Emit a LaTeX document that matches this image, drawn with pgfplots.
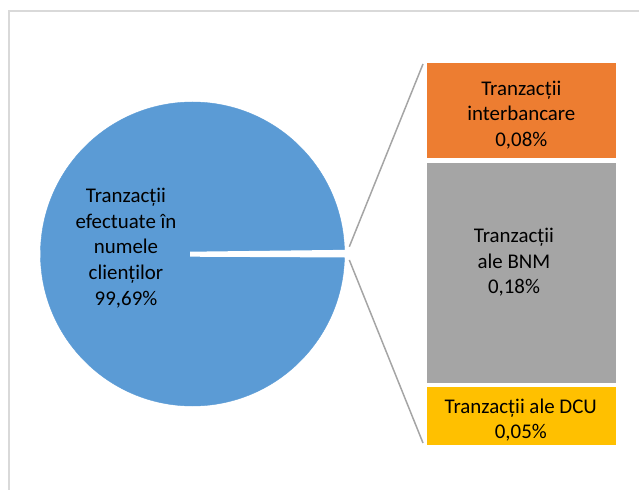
\documentclass[border=0pt]{standalone}
\usepackage{pgfplots}
\pgfplotsset{compat=1.18}
\usepackage{fontspec}
\setmainfont{Carlito}
\definecolor{pieblue}{HTML}{5B9BD5}
\definecolor{orng}{HTML}{ED7D31}
\definecolor{gry}{HTML}{A5A5A5}
\definecolor{yel}{HTML}{FFC000}
\definecolor{brd}{HTML}{D9D9D9}
\begin{document}
\begin{tikzpicture}
\useasboundingbox (0,0) rectangle (639bp,490bp);
% pie (main slice, 99.69%)
\begin{axis}[at={(0,0)}, anchor=south west,
  width=639bp, height=490bp, scale only axis, hide axis,
  xmin=0, xmax=639, ymin=0, ymax=490, clip=false]
\addplot[pieblue, only marks, mark=*, mark size=152bp, mark options={fill=pieblue, draw=pieblue}] coordinates {(192.5,236)};
\end{axis}
% stacked bar of the small slices
\begin{axis}[at={(424.35bp,42.65bp)}, anchor=south west,
  width=193.7bp, height=386.4bp, scale only axis, hide axis,
  xmin=-0.5, xmax=0.5, ymin=0, ymax=0.31,
  ybar stacked, bar width=193.7bp, clip=false]
\addplot[fill=yel, draw=white, line width=4.7bp] coordinates {(0,0.05)};
\addplot[fill=gry, draw=white, line width=4.7bp] coordinates {(0,0.18)};
\addplot[fill=orng, draw=white, line width=4.7bp] coordinates {(0,0.08)};
\end{axis}
% decorations and labels in pixel coordinates
\begin{axis}[at={(0,0)}, anchor=south west,
  width=639bp, height=490bp, scale only axis, hide axis,
  xmin=0, xmax=639, ymin=0, ymax=490, clip=false]
\addplot[brd, line width=1.7bp] coordinates {(9.3,0) (9.3,479.3) (639,479.3)};
\addplot[fill=white, draw=none] coordinates {(190,238.3) (190,233.3) (350,232.5) (350,240.2)} -- cycle;
\addplot[gry, line width=1.5bp] coordinates {(349.3,243.3) (423,426)};
\addplot[gry, line width=1.5bp] coordinates {(349.3,230) (423,47)};
\node[font=\fontsize{20.9bp}{25.6bp}\selectfont, align=center] at (axis cs:126,242)
  {Tranzacții\\efectuate în\\numele\\clienților\\99,69\%};
\node[font=\fontsize{20.9bp}{25.6bp}\selectfont, align=center] at (axis cs:521.3,375.2)
  {Tranzacții\\interbancare\\0,08\%};
\node[font=\fontsize{20.9bp}{25.6bp}\selectfont, align=center] at (axis cs:514,227.6)
  {Tranzacții\\ale BNM\\0,18\%};
\node[font=\fontsize{20.9bp}{25.6bp}\selectfont, align=center] at (axis cs:520.8,70)
  {Tranzacții ale DCU\\0,05\%};
\end{axis}
\end{tikzpicture}
\end{document}
